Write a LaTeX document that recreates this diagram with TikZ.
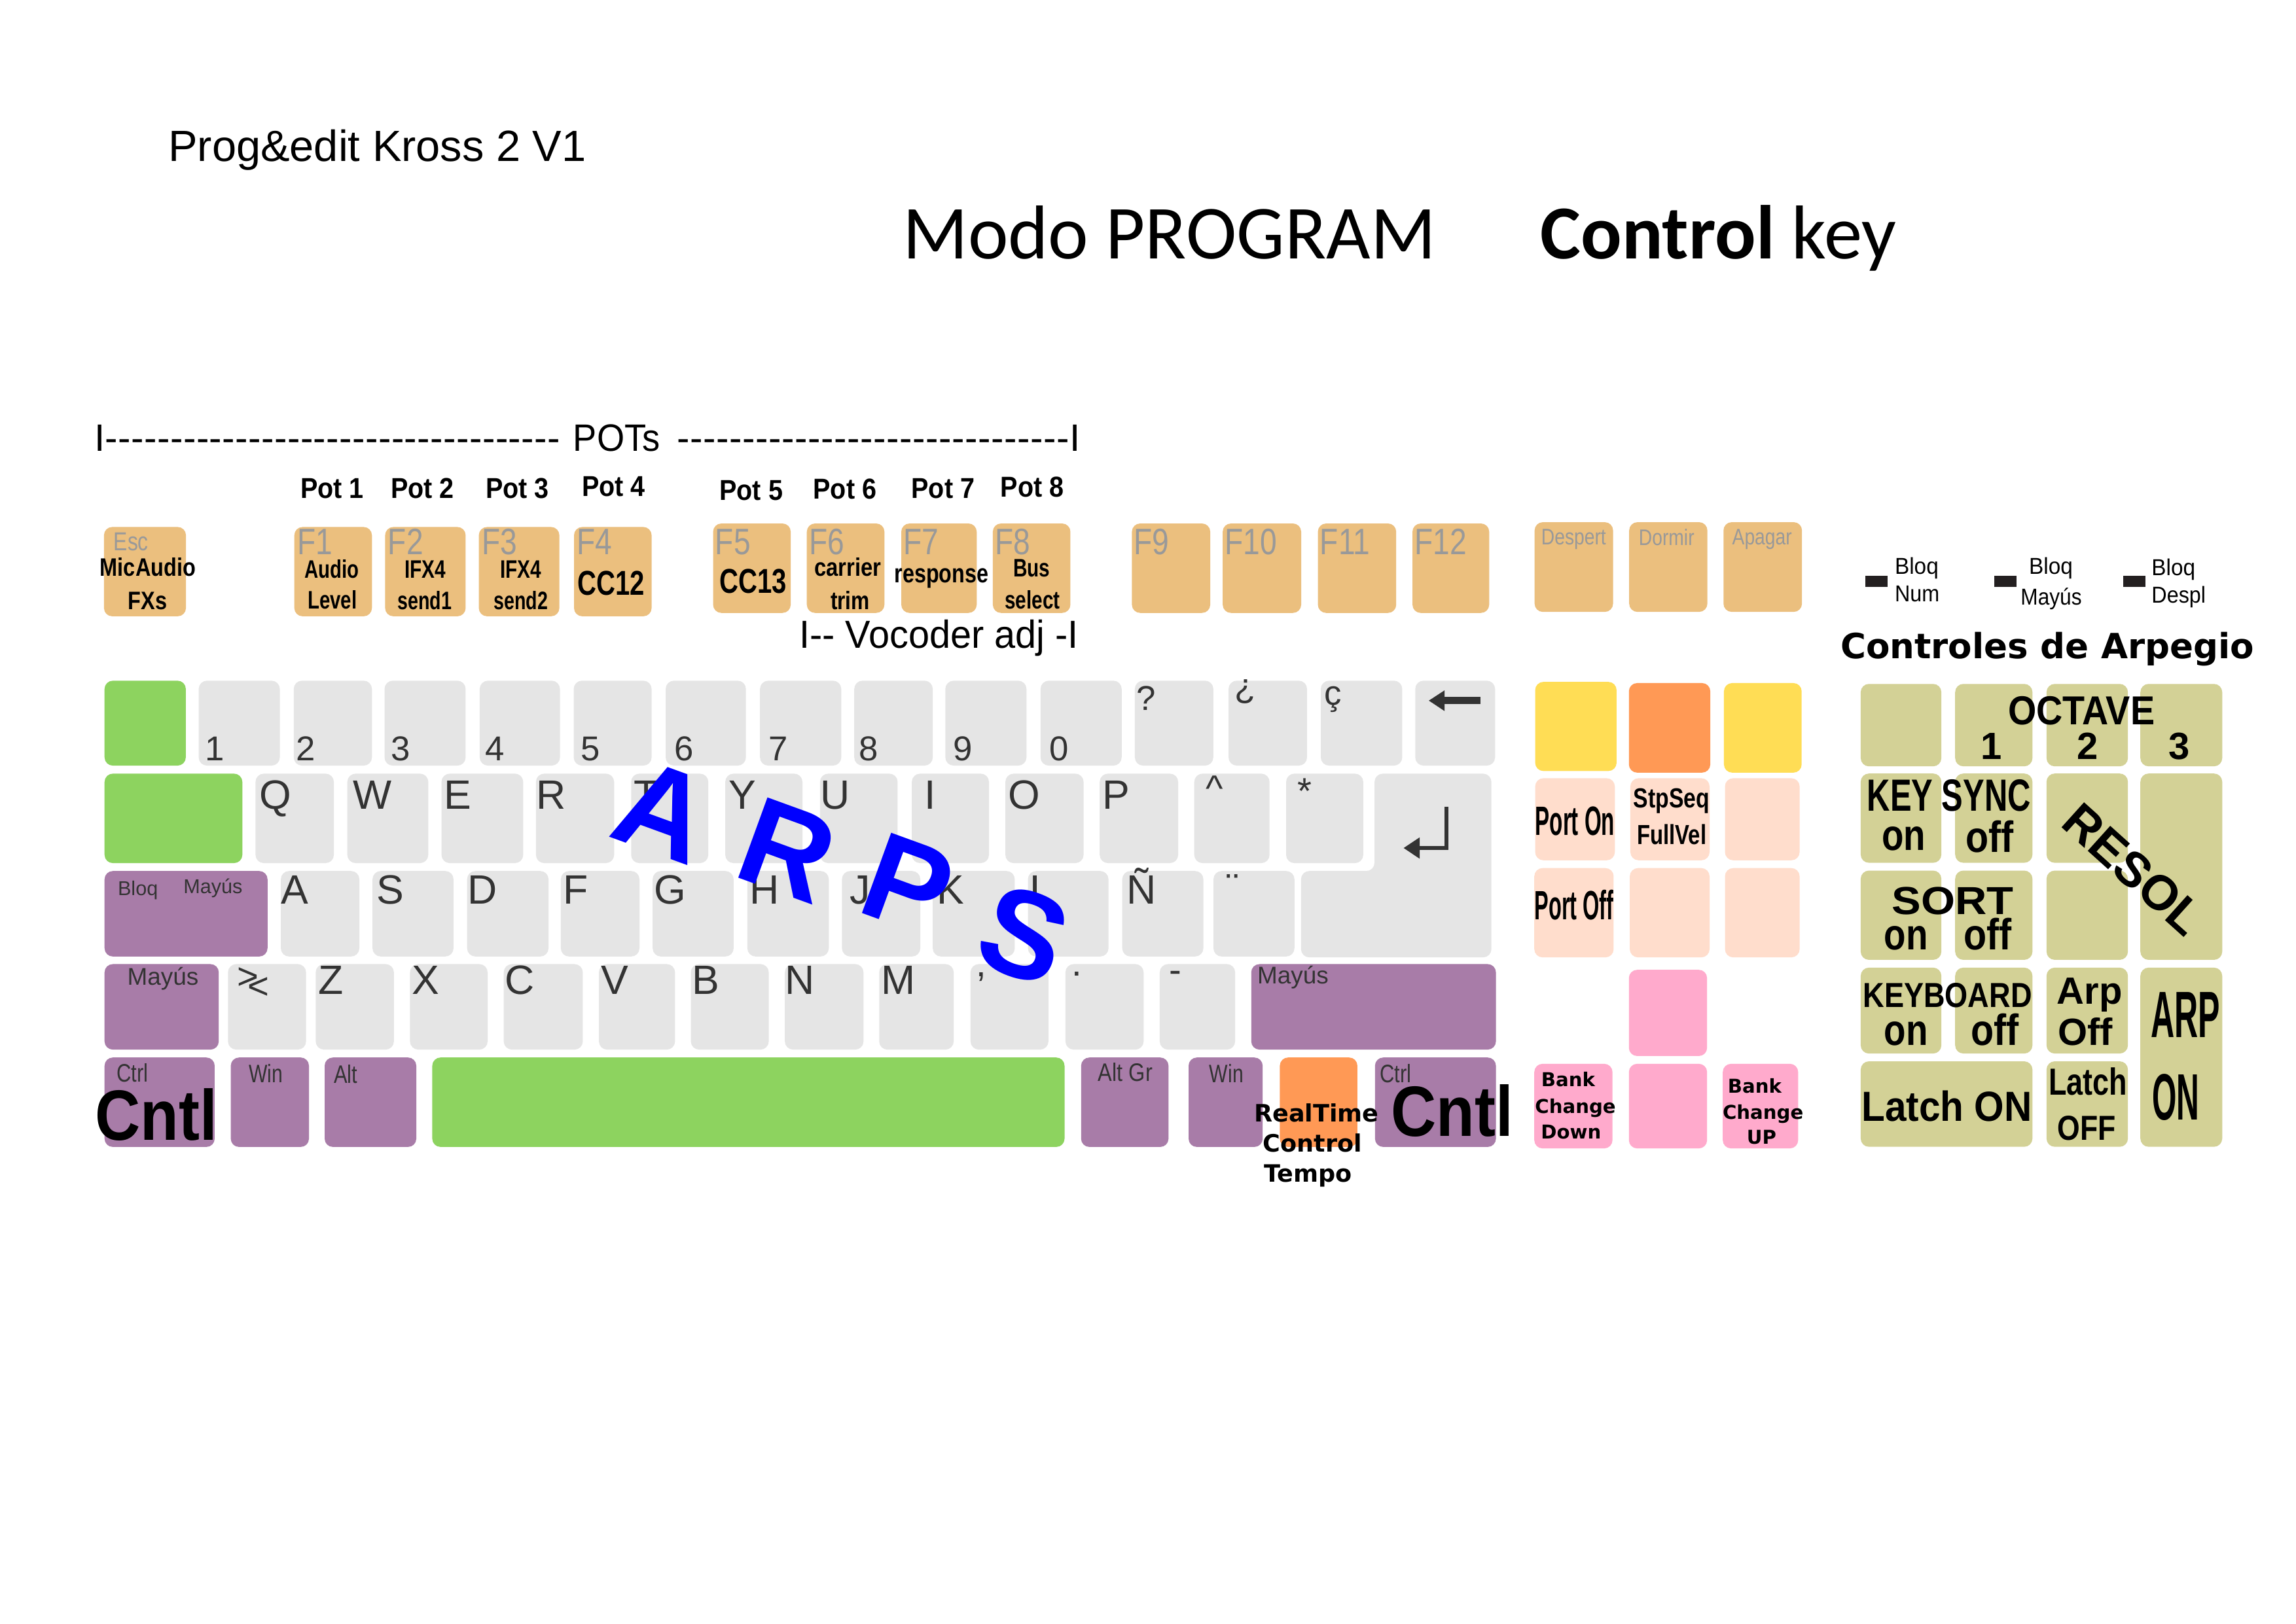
\documentclass[tikz,border=0pt]{standalone}
\usepackage{fontspec}
\setmainfont{Liberation Sans}
\newfontfamily\dvs{DejaVu Sans}
\newfontfamily\carl{Carlito}
\definecolor{fkey}{HTML}{EBBF7E}
\definecolor{gkey}{HTML}{E5E5E5}
\definecolor{grn}{HTML}{8DD35F}
\definecolor{pur}{HTML}{A87CA8}
\definecolor{yel}{HTML}{FFDD55}
\definecolor{org}{HTML}{FF9955}
\definecolor{pch}{HTML}{FFDDCC}
\definecolor{pnk}{HTML}{FFAACC}
\definecolor{olv}{HTML}{D3D196}
\definecolor{lbl}{HTML}{333333}
\definecolor{glbl}{HTML}{999999}
\definecolor{ind}{HTML}{231F20}
\newcommand\hs[2]{\scalebox{#1}[1]{#2}}
\newcommand\fs[1]{\fontsize{#1}{#1}\selectfont}
\newcommand\dashfill[1]{\hbox to #1{\xleaders\hbox{-}\hfill}}
\newcommand\keyr[6]{\fill[#6,rounded corners=3.6pt] (#2,#3) rectangle (#4,#5); \coordinate (#1) at ({(#2+#4)/2},{(#3+#5)/2});}
\begin{document}
\begin{tikzpicture}[x=0.22372mm,y=-0.22372mm,
  every node/.style={inner sep=0pt,outer sep=0pt},
  flbl/.style={text=glbl,font=\fs{16},anchor=north west},
  fbold/.style={font=\bfseries\fs{11},anchor=base},
  dig/.style={text=lbl,font=\fs{15},anchor=base west},
  let/.style={text=lbl,font=\fs{17.8},anchor=base west},
  sym/.style={text=lbl,font=\fs{16},anchor=center},
  plbl/.style={text=lbl,font=\fs{11},anchor=base west},
  ctl/.style={font=\bfseries\fs{31},anchor=base},
  olab/.style={font=\bfseries,anchor=base},
  dvb/.style={font=\dvs\bfseries\fs{8.3},anchor=base},
  arps/.style={text=blue,font=\bfseries\fs{54},rotate=-20,anchor=center}]
\useasboundingbox (0,0) rectangle (1568,1109);
\fill[white] (0,0) rectangle (1568,1109);

% ---------- titles ----------
\node[anchor=base west] (title) at (115,110.3) {\fs{19}Prog\&edit Kross 2 V1};
\node[anchor=base west] (modo) at (616.5,176.6) {\carl\fs{33.2}Modo PROGRAM};
\node[anchor=base west] (ctrlkey) at (1052,176.6) {\carl\fs{33.2}\textbf{Control} key};

% ---------- POTs line ----------
\node[anchor=base west] (potsl) at (64.5,308.4) {\fs{16.6}I\dashfill{198pt}};
\node[anchor=base west] (pots) at (391.5,308.4) {\fs{16.6}\hs{.93}{POTs}};
\node[anchor=base east] (potsr) at (737.9,308.4) {\fs{16.6}\dashfill{171pt}I};

\node[anchor=base] (pot1) at (226.9,340.5) {\bfseries\fs{12.5}\hs{.9}{Pot 1}};
\node[anchor=base] (pot2) at (288.6,340.5) {\bfseries\fs{12.5}\hs{.9}{Pot 2}};
\node[anchor=base] (pot3) at (353.3,340.5) {\bfseries\fs{12.5}\hs{.9}{Pot 3}};
\node[anchor=base] (pot4) at (419,339) {\bfseries\fs{12.5}\hs{.9}{Pot 4}};
\node[anchor=base] (pot5) at (513,341.5) {\bfseries\fs{12.5}\hs{.9}{Pot 5}};
\node[anchor=base] (pot6) at (577,341) {\bfseries\fs{12.5}\hs{.9}{Pot 6}};
\node[anchor=base] (pot7) at (644,340.5) {\bfseries\fs{12.5}\hs{.9}{Pot 7}};
\node[anchor=base] (pot8) at (705,339.4) {\bfseries\fs{12.5}\hs{.9}{Pot 8}};

% ---------- function row ----------
\keyr{esc}{71}{360}{127}{421}{fkey}
\keyr{f1}{201}{360}{254}{421}{fkey}
\keyr{f2}{263}{360}{318}{421}{fkey}
\keyr{f3}{327}{360}{382}{421}{fkey}
\keyr{f4}{392}{360}{445}{421}{fkey}
\keyr{f5}{487}{357.6}{540}{418.7}{fkey}
\keyr{f6}{551}{357.6}{604}{418.7}{fkey}
\keyr{f7}{615.5}{357.6}{667}{418.7}{fkey}
\keyr{f8}{678}{357.6}{731}{418.7}{fkey}
\keyr{f9}{773}{357.6}{826.5}{418.7}{fkey}
\keyr{f10}{835}{357.6}{888.6}{418.7}{fkey}
\keyr{f11}{900}{357.6}{953.5}{418.7}{fkey}
\keyr{f12}{964.6}{357.6}{1017}{418.7}{fkey}
\keyr{desp}{1048}{356.7}{1101.6}{418}{fkey}
\keyr{dorm}{1112.6}{356.7}{1166}{418}{fkey}
\keyr{apag}{1177}{356.7}{1230.6}{418}{fkey}

\node[flbl,font=\fs{11.3}] (tesc) at (77.7,364) {\hs{.8}{Esc}};
\foreach \n/\x/\t in {1/203/F1,2/265/F2,3/329/F3,4/394/F4,5/488.5/F5,6/552.5/F6,7/617/F7,8/679.5/F8,9/774.5/F9,10/836.5/F10,11/901.5/F11,12/966/F12}
  {\node[flbl] (tf\n) at (\x,361.3) {\hs{.82}{\t}};}
\node[flbl,font=\fs{9.8}] (tdesp) at (1052.6,361.3) {\hs{.82}{Despert}};
\node[flbl,font=\fs{9.8}] (tdorm) at (1119.2,361.3) {\hs{.82}{Dormir}};
\node[flbl,font=\fs{9.8}] (tapag) at (1183,361.3) {\hs{.82}{Apagar}};

\node[fbold] (mic1) at (101,393.4) {\hs{.84}{MicAudio}};
\node[fbold] (mic2) at (100.8,416.5) {\hs{.84}{FXs}};
\node[fbold] (au1) at (226.5,394.8) {\hs{.76}{Audio}};
\node[fbold] (au2) at (227,415.7) {\hs{.76}{Level}};
\node[fbold] (ifa1) at (290.4,394.8) {\hs{.77}{IFX4}};
\node[fbold] (ifa2) at (290,416.4) {\hs{.74}{send1}};
\node[fbold] (ifb1) at (355.6,394.8) {\hs{.77}{IFX4}};
\node[fbold] (ifb2) at (355.6,416.4) {\hs{.74}{send2}};
\node[fbold,font=\bfseries\fs{15}] (cc12) at (417.5,406.5) {\hs{.76}{CC12}};
\node[fbold,font=\bfseries\fs{15}] (cc13) at (514.3,405) {\hs{.76}{CC13}};
\node[fbold] (car1) at (579,393.4) {\hs{.85}{carrier}};
\node[fbold] (car2) at (580.6,416.5) {\hs{.82}{trim}};
\node[fbold,font=\bfseries\fs{11.5}] (resp) at (643,398) {\hs{.8}{response}};
\node[fbold] (bus1) at (704.5,394) {\hs{.77}{Bus}};
\node[fbold] (bus2) at (705,415.7) {\hs{.77}{select}};

\node[anchor=base west] (voc) at (546,442.5) {\fs{17}\hs{.965}{I-{}- Vocoder adj -I}};

% ---------- lock indicators ----------
\fill[ind] (1274,393.4) rectangle (1289,400.8);
\fill[ind] (1362,393.4) rectangle (1377,400.8);
\fill[ind] (1450,393.4) rectangle (1465,400.8);
\node[anchor=base west] (bn1) at (1294,392) {\fs{10}\hs{.95}{Bloq}};
\node[anchor=base west] (bn2) at (1294,411) {\fs{10}\hs{.92}{Num}};
\node[anchor=base west] (bm1) at (1385.7,392) {\fs{10}\hs{.95}{Bloq}};
\node[anchor=base west] (bm2) at (1380,413.3) {\fs{10}\hs{.9}{Mayús}};
\node[anchor=base west] (bd1) at (1469.4,393) {\fs{10}\hs{.95}{Bloq}};
\node[anchor=base west] (bd2) at (1469.4,411.8) {\fs{10}\hs{.92}{Despl}};
\node[anchor=base west] (carp) at (1257,450) {\dvs\bfseries\fs{15.1}Controles de Arpegio};

% ---------- row 1 ----------
\keyr{kg1}{71.4}{465}{126.9}{523}{grn}
\foreach \n/\a/\b/\t/\o in {k1/135.7/191.1/1/4.3,k2/200.6/254/2/1.7,k3/262.6/318/3/4.6,k4/327.6/382.4/4/3.7,k5/391.8/445/5/4.9,k6/454.6/509.4/6/6,k7/519/574.5/7/5.8,k8/583.4/637/8/3.4,k9/645.6/701/9/5.4,k0/710.6/766/0/6.2}
 {\keyr{\n}{\a}{465}{\b}{523}{gkey}
  \node[dig] (t\n) at (\a+\o,519.5) {\t};}
\keyr{kq}{775}{465}{828.6}{523}{gkey}
\keyr{kiq}{839}{465}{892.6}{523}{gkey}
\keyr{kcc}{902}{465}{957.6}{523}{gkey}
\keyr{kbs}{966.5}{465}{1021}{523}{gkey}
\node[sym,font=\fs{15}] (tq) at (782.9,476.8) {?};
\node[sym,font=\fs{15}] (tiq) at (850.5,472.3) {¿};
\node[sym,font=\fs{15}] (tcc) at (910.5,477.6) {ç};
\draw[lbl,line width=3.2pt] (1011,478.6) -- (985,478.6);
\fill[lbl] (975.8,478.6) -- (986.5,471.6) -- (986.5,485.7) -- cycle;

% ---------- row 2 ----------
\keyr{ktab}{71.4}{528.5}{165.5}{589.6}{grn}
\foreach \n/\a/\b/\t/\o in {kQ/174.5/228/Q/2.7,kW/237.2/292.5/W/4,kE/301.5/357.3/E/1.9,kR/366/419.4/R/0.5,kT/431/483.7/T/1.8,kY/495.3/548/Y/2.2,kU/560/613/U/0.5,kI/622.7/675.4/I/8.6,kO/686.6/740/O/2,kP/751/804.6/P/1.8}
 {\keyr{\n}{\a}{528.5}{\b}{589.6}{gkey}
  \node[let] (t\n) at (\a+\o,552.6) {\t};}
\keyr{kcar}{815.6}{528.5}{867}{589.6}{gkey}
\keyr{kast}{878.3}{528.5}{931}{589.6}{gkey}
\node[sym] (tcar) at (829.5,538.5) {\^{}};
\node[sym] (tast) at (891,540.3) {*};
\fill[gkey,rounded corners=3.6pt] (938.7,528.5) -- (1018.5,528.5) -- (1018.5,654) -- (888.5,654) -- (888.5,595) -- (938.7,595) -- cycle;
\coordinate (kent) at (978,590);
\draw[lbl,line width=1.6pt] (987.7,551) -- (987.7,579.3) -- (968,579.3);
\fill[lbl] (958.6,579.3) -- (969.5,572) -- (969.5,586.6) -- cycle;

% ---------- row 3 ----------
\keyr{kbm}{71.4}{595}{182.7}{653.4}{pur}
\node[plbl,font=\fs{8.7}] (tbm1) at (80.5,611.5) {Bloq};
\node[plbl,font=\fs{8.7}] (tbm2) at (125.3,610.3) {Mayús};
\foreach \n/\a/\b/\t/\o in {kA/191.8/245.4/A/0.3,kS/254.4/309.7/S/2.8,kD/319/374.6/D/0.3,kF/383/436.7/F/1.8,kG/445.7/501/G/1.2,kH/510.4/566/H/1.4,kJ/575/628.5/J/5.5,kK/637/693/K/3,kL/702/757/L/1.3,kNN/766.4/821.8/Ñ/2.9}
 {\keyr{\n}{\a}{595}{\b}{653.4}{gkey}
  \node[let] (t\n) at (\a+\o,617.6) {\t};}
\keyr{kdi}{828.7}{595}{884}{653.4}{gkey}
\node[sym,font=\fs{17}] (tdi) at (841.8,606.5) {¨};

% ---------- row 4 ----------
\keyr{kshl}{71.4}{658.6}{149.4}{717}{pur}
\node[plbl,font=\fs{10.5}] (tshl) at (87,673) {Mayús};
\keyr{klt}{155.7}{658.6}{209}{717}{gkey}
\node[sym] (tgt) at (169.5,668.2) {>};
\node[sym] (tlt) at (176.6,675) {<};
\foreach \n/\a/\b/\t/\o in {kZ/215.6/269/Z/1.7,kX/280/333/X/1.5,kC/344/398/C/1,kV/409/461/V/1.7,kB/471.8/525/B/1,kN/536/589.7/N/0.2,kM/600.4/651.3/M/1.4}
 {\keyr{\n}{\a}{658.6}{\b}{717}{gkey}
  \node[let] (t\n) at (\a+\o,679) {\t};}
\keyr{kcom}{662.8}{658.6}{716}{717}{gkey}
\keyr{kdot}{727.6}{658.6}{781}{717}{gkey}
\keyr{kmin}{792}{658.6}{843.5}{717}{gkey}
\node[sym] (tcom) at (670.3,667.3) {,};
\node[sym] (tdot) at (735.6,665.2) {.};
\node[sym] (tmin) at (802.5,667.2) {-};
\keyr{kshr}{854.5}{658.6}{1021.6}{717}{pur}
\node[plbl,font=\fs{10.5}] (tshr) at (858.7,672) {Mayús};

% ---------- row 5 ----------
\keyr{kctl}{71.4}{722.4}{146.6}{783.5}{pur}
\keyr{kwinl}{157.6}{722.4}{211}{783.5}{pur}
\keyr{kalt}{221.7}{722.4}{284.3}{783.5}{pur}
\keyr{kspc}{295.2}{722.4}{727}{783.5}{grn}
\keyr{kagr}{738.3}{722.4}{798}{783.5}{pur}
\keyr{kwinr}{811.7}{722.4}{862.3}{783.5}{pur}
\keyr{krt}{874}{722.4}{927}{783.5}{org}
\keyr{kctr}{939}{722.4}{1021.6}{783.5}{pur}
\node[plbl] (tctl) at (79.8,739) {\hs{.8}{Ctrl}};
\node[plbl] (twinl) at (170,739.5) {\hs{.78}{Win}};
\node[plbl] (talt) at (228,740) {\hs{.8}{Alt}};
\node[plbl] (tagr) at (750,738.6) {\hs{.84}{Alt Gr}};
\node[plbl] (twinr) at (826,739.5) {\hs{.78}{Win}};
\node[plbl] (tctr) at (942.3,739.5) {\hs{.8}{Ctrl}};
\node[ctl] (cntl1) at (106.8,779) {\hs{.88}{Cntl}};
\node[ctl] (cntl2) at (991.8,776.3) {\hs{.88}{Cntl}};
\node[anchor=base west,font=\dvs\bfseries\fs{10.4}] (rt1) at (856.5,766.4) {RealTime};
\node[anchor=base west,font=\dvs\bfseries\fs{10.4}] (rt2) at (862.5,786.8) {Control};
\node[anchor=base west,font=\dvs\bfseries\fs{10.4}] (rt3) at (863.4,807.5) {Tempo};

% ---------- middle block ----------
\keyr{y1}{1048.4}{465.8}{1104}{526.7}{yel}
\keyr{o1}{1112.4}{466.6}{1168}{527.8}{org}
\keyr{y2}{1177.3}{466.6}{1230.4}{527.8}{yel}
\keyr{pon}{1048.4}{531.6}{1102.8}{587.7}{pch}
\keyr{pstp}{1113.4}{531.6}{1167.5}{587.7}{pch}
\keyr{pb1}{1178}{531.6}{1229}{587.7}{pch}
\keyr{poff}{1047.8}{593}{1102}{654}{pch}
\keyr{pb2}{1113}{593}{1167.5}{654}{pch}
\keyr{pb3}{1178}{593}{1229}{654}{pch}
\keyr{pk1}{1112.4}{662.5}{1165.8}{721.4}{pnk}
\keyr{pkd}{1047.8}{726.7}{1101.2}{784.5}{pnk}
\keyr{pk2}{1112.4}{726.7}{1165.8}{784.5}{pnk}
\keyr{pku}{1176.5}{726.7}{1228}{784.5}{pnk}
\node[anchor=base] (tpon) at (1075.6,570.6) {\bfseries\fs{17.8}\hs{.53}{Port On}};
\node[anchor=base] (tpoff) at (1075,628.3) {\bfseries\fs{17.8}\hs{.52}{Port Off}};
\node[anchor=base] (tstp1) at (1141.6,551.7) {\bfseries\fs{12}\hs{.8}{StpSeq}};
\node[anchor=base] (tstp2) at (1141.7,577) {\bfseries\fs{12}\hs{.78}{FullVel}};
\node[dvb] (bd1t) at (1070.9,742) {Bank};
\node[dvb] (bd2t) at (1075.9,760.5) {Change};
\node[dvb] (bd3t) at (1072.9,777.9) {Down};
\node[dvb] (bu1t) at (1198.3,746.5) {Bank};
\node[dvb] (bu2t) at (1204,764.5) {Change};
\node[dvb] (bu3t) at (1203,781.5) {UP};

% ---------- arpeggio block ----------
\keyr{a11}{1270.7}{467.2}{1325.8}{523.5}{olv}
\keyr{a12}{1335.2}{467.2}{1388}{523.5}{olv}
\keyr{a13}{1397.6}{467.2}{1453.2}{523.5}{olv}
\keyr{a14}{1461.7}{467.2}{1517.6}{523.5}{olv}
\keyr{a21}{1270.7}{528.4}{1325.8}{589.4}{olv}
\keyr{a22}{1335.2}{528.4}{1388}{589.4}{olv}
\keyr{a23}{1397.6}{528.4}{1453.2}{589.4}{olv}
\keyr{a24}{1461.7}{528.4}{1517.6}{655.7}{olv}
\keyr{a31}{1270.7}{594.7}{1325.8}{655.7}{olv}
\keyr{a32}{1335.2}{594.7}{1388}{655.7}{olv}
\keyr{a33}{1397.6}{594.7}{1453.2}{655.7}{olv}
\keyr{a41}{1270.7}{661}{1325.8}{719.7}{olv}
\keyr{a42}{1335.2}{661}{1388}{719.7}{olv}
\keyr{a43}{1397.6}{661}{1453.2}{719.7}{olv}
\keyr{a44}{1461.7}{661}{1517.6}{783.4}{olv}
\keyr{a51}{1270.7}{725}{1388}{783.4}{olv}
\keyr{a53}{1397.6}{725}{1453.2}{783.4}{olv}

\node[olab] (toct) at (1421.5,494.8) {\fs{17.6}\hs{.9}{OCTAVE}};
\node[olab] (to1) at (1360,518.5) {\fs{16.5}1};
\node[olab] (to2) at (1425.8,518.5) {\fs{16.5}2};
\node[olab] (to3) at (1488.2,518.5) {\fs{16.5}3};
\node[olab] (tks) at (1331,554) {\fs{19.6}\hs{.71}{KEY SYNC}};
\node[olab] (tks1) at (1300,581) {\fs{19}\hs{.82}{on}};
\node[olab] (tks2) at (1358.8,582) {\fs{19}\hs{.86}{off}};
\node[olab] (tsort) at (1333.7,624.7) {\fs{17}\hs{1.12}{SORT}};
\node[olab] (tso1) at (1301.7,648.6) {\fs{19}\hs{.82}{on}};
\node[olab] (tso2) at (1357.6,648.6) {\fs{19}\hs{.86}{off}};
\node[olab] (tkb) at (1330,688) {\fs{15.1}\hs{.85}{KEYBOARD}};
\node[olab] (tkb1) at (1301.7,714) {\fs{19}\hs{.82}{on}};
\node[olab] (tkb2) at (1362.5,714) {\fs{19}\hs{.86}{off}};
\node[olab] (tarp1) at (1427,686) {\fs{16.5}Arp};
\node[olab] (tarp2) at (1424,714) {\fs{16.5}Off};
\node[olab] (tarpon1) at (1492.5,708.5) {\fs{28.5}\hs{.5}{ARP}};
\node[olab] (tarpon2) at (1486,765) {\fs{28.5}\hs{.48}{ON}};
\node[olab] (tlon) at (1329.6,766) {\fs{18.3}\hs{.91}{Latch ON}};
\node[olab] (tloff1) at (1426,748) {\fs{16.4}\hs{.78}{Latch}};
\node[olab] (tloff2) at (1425,779) {\fs{15.1}\hs{.84}{OFF}};
\node[font=\bfseries\fs{21.3},rotate=-42,anchor=center] (tresol) at (1457,594) {RESOL};

% ---------- ARPS ----------
\node[arps] (arpsA) at (453,554) {A};
\node[arps] (arpsR) at (538,580.7) {R};
\node[arps] (arpsP) at (620,604) {P};
\node[arps] (arpsS) at (699,638.5) {S};
\end{tikzpicture}
\end{document}
